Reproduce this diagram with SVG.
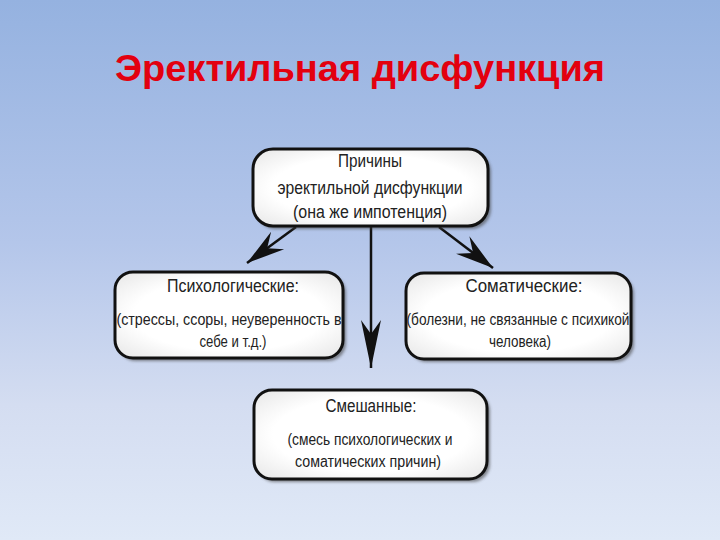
<svg xmlns="http://www.w3.org/2000/svg" width="720" height="540" viewBox="0 0 720 540">
<defs>
<linearGradient id="bg" x1="0" y1="0" x2="0" y2="1">
<stop offset="0" stop-color="#95b2e0"/>
<stop offset="0.45" stop-color="#b4c6ea"/>
<stop offset="0.75" stop-color="#d4ddf1"/>
<stop offset="1" stop-color="#e0e9f7"/>
</linearGradient>
<radialGradient id="boxfill" cx="0.5" cy="0.5" r="0.7">
<stop offset="0.6" stop-color="#ffffff"/>
<stop offset="1" stop-color="#e6e6e6"/>
</radialGradient>
<filter id="sh" x="-10%" y="-10%" width="130%" height="140%">
<feGaussianBlur stdDeviation="1.5"/>
</filter>
<marker id="ahBig" markerUnits="userSpaceOnUse" viewBox="-50 -12 52 24" refX="0" refY="0" markerWidth="52" markerHeight="24" orient="auto">
<path d="M0,0 L-48,-10 L-34,0 L-48,10 Z" fill="#111"/>
</marker>
<marker id="ahSmall" markerUnits="userSpaceOnUse" viewBox="-40 -13 42 26" refX="0" refY="0" markerWidth="42" markerHeight="26" orient="auto">
<path d="M0,0 L-38,-11 L-25,0 L-38,11 Z" fill="#111"/>
</marker>
</defs>
<style>
.box{fill:url(#boxfill);stroke:#111;stroke-width:3}
.shadow{fill:#444;opacity:0.6;filter:url(#sh)}
.t{font-family:"Liberation Sans",Arial,sans-serif;fill:#222;text-anchor:middle}
.h{font-size:17.5px}
.s{font-size:16px}
.conn{stroke:#111;stroke-width:2.5;fill:none}
.title{font-family:"Liberation Sans",Arial,sans-serif;font-weight:bold;font-size:36px;fill:#e3000f;text-anchor:middle}
</style>
<rect x="0" y="0" width="720" height="540" fill="url(#bg)"/>
<text class="title" x="360" y="81" textLength="490" lengthAdjust="spacingAndGlyphs">Эректильная дисфункция</text>

<g id="connectors">
<line class="conn" x1="296" y1="227" x2="247" y2="263" marker-end="url(#ahSmall)"/>
<line class="conn" x1="439" y1="227" x2="493" y2="268" marker-end="url(#ahSmall)"/>
<line class="conn" x1="371" y1="227" x2="371" y2="368" marker-end="url(#ahBig)"/>
</g>

<g id="node-causes">
<rect class="shadow" x="256" y="152" width="235" height="77" rx="20"/>
<rect class="box" x="253" y="149" width="235" height="77" rx="20"/>
<text class="t h" x="370" y="167" textLength="64" lengthAdjust="spacingAndGlyphs">Причины</text>
<text class="t h" x="370" y="194" textLength="185" lengthAdjust="spacingAndGlyphs">эректильной дисфункции</text>
<text class="t h" x="370" y="218" textLength="154" lengthAdjust="spacingAndGlyphs">(она же импотенция)</text>
</g>

<g id="node-psych">
<rect class="shadow" x="118" y="275" width="228" height="86" rx="18"/>
<rect class="box" x="115" y="272" width="228" height="86" rx="18"/>
<text class="t h" x="233" y="292" textLength="132" lengthAdjust="spacingAndGlyphs">Психологические:</text>
<text class="t s" x="229" y="325" textLength="225" lengthAdjust="spacingAndGlyphs">(стрессы, ссоры, неуверенность в</text>
<text class="t s" x="233" y="347" textLength="67" lengthAdjust="spacingAndGlyphs">себе и т.д.)</text>
</g>

<g id="node-somatic">
<rect class="shadow" x="409" y="276" width="225" height="86" rx="18"/>
<rect class="box" x="406" y="273" width="225" height="86" rx="18"/>
<text class="t h" x="524" y="292" textLength="117" lengthAdjust="spacingAndGlyphs">Соматические:</text>
<text class="t s" x="518" y="325" textLength="223" lengthAdjust="spacingAndGlyphs">(болезни, не связанные с психикой</text>
<text class="t s" x="520" y="347" textLength="62" lengthAdjust="spacingAndGlyphs">человека)</text>
</g>

<g id="node-mixed">
<rect class="shadow" x="257" y="393" width="233" height="89" rx="18"/>
<rect class="box" x="254" y="390" width="233" height="89" rx="18"/>
<text class="t h" x="371" y="412" textLength="91" lengthAdjust="spacingAndGlyphs">Смешанные:</text>
<text class="t s" x="370" y="445" textLength="165" lengthAdjust="spacingAndGlyphs">(смесь психологических и</text>
<text class="t s" x="368" y="467" textLength="146" lengthAdjust="spacingAndGlyphs">соматических причин)</text>
</g>
</svg>
